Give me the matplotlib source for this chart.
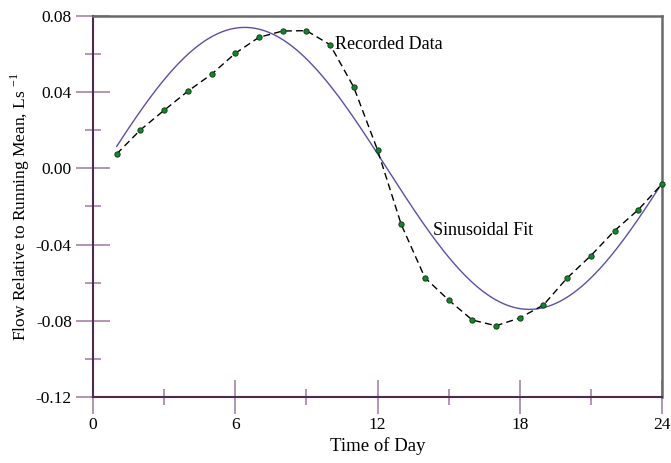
import numpy as np
import matplotlib
matplotlib.use("Agg")
import matplotlib.pyplot as plt
from matplotlib.ticker import MultipleLocator

plt.rcParams['font.family'] = ['Liberation Serif', 'DejaVu Serif']
plt.rcParams['mathtext.fontset'] = 'custom'
plt.rcParams['mathtext.rm'] = 'Liberation Serif'

# Recorded data (hour of day, flow relative to running mean)
hours = [1, 2, 3, 4, 5, 6, 7, 8, 9, 10, 11, 12,
         13, 14, 15, 16, 17, 18, 19, 20, 21, 22, 23, 24]
flow = [0.0076, 0.0202, 0.0305, 0.0405, 0.0494, 0.0604, 0.0688, 0.0721,
        0.0723, 0.0649, 0.0426, 0.0097, -0.0294, -0.0574, -0.0691, -0.0796,
        -0.0826, -0.0785, -0.0717, -0.0575, -0.0458, -0.0327, -0.0217, -0.0082]

# Sinusoidal fit parameters
fit_amplitude = 0.074
fit_period = 24.0
fit_phase = 0.4   # hours
fit_start, fit_end = 1, 24

x_ticks = [0, 6, 12, 18, 24]
y_ticks = [-0.12, -0.08, -0.04, 0.00, 0.04, 0.08]

fig = plt.figure(figsize=(6.71, 4.63), dpi=100)
ax = fig.add_axes([0.1386, 0.1425, 0.848, 0.823])

t = np.linspace(fit_start, fit_end, 400)
fit = fit_amplitude * np.sin(2 * np.pi * (t - fit_phase) / fit_period)
ax.plot(t, fit, color='#5a50a8', lw=1.0, zorder=2)

ax.plot(hours, flow, color='black', lw=1.0, ls=(0, (5, 3)), zorder=3,
        marker='o', markersize=3.8, markerfacecolor='#0c8a2a',
        markeredgecolor='#1a3a1a', markeredgewidth=0.7, clip_on=False)

ax.text(10.2, 0.0648, 'Recorded Data', fontsize=13, va='center', ha='left')
ax.text(14.35, -0.0325, 'Sinusoidal Fit', fontsize=13, va='center', ha='left')

ax.set_xlim(0, 24)
ax.set_ylim(-0.12, 0.08)
ax.set_xticks(x_ticks)
ax.set_yticks(y_ticks)
ax.set_yticklabels([f'{v:.2f}' for v in y_ticks])
ax.xaxis.set_minor_locator(MultipleLocator(3))
ax.yaxis.set_minor_locator(MultipleLocator(0.02))

tick_col = '#a784a8'
ax.tick_params(which='major', direction='inout', length=24.5, width=1.2,
               color=tick_col, labelsize=12.5, pad=2)
ax.tick_params(which='minor', direction='inout', length=12, width=1.2,
               color=tick_col)
ax.tick_params(axis='y', which='major', pad=3)

for s in ['left', 'bottom']:
    ax.spines[s].set_color('#4e2a50')
    ax.spines[s].set_linewidth(1.5)
for s in ['top', 'right']:
    ax.spines[s].set_color('#6a6a6a')
    ax.spines[s].set_linewidth(1.8)

ax.set_xlabel('Time of Day', fontsize=13.5, labelpad=3)
ax.set_ylabel(r'Flow Relative to Running Mean, Ls $^{\mathregular{-1}}$',
              fontsize=12.5, labelpad=3)

fig.savefig('out.png', dpi=100)
